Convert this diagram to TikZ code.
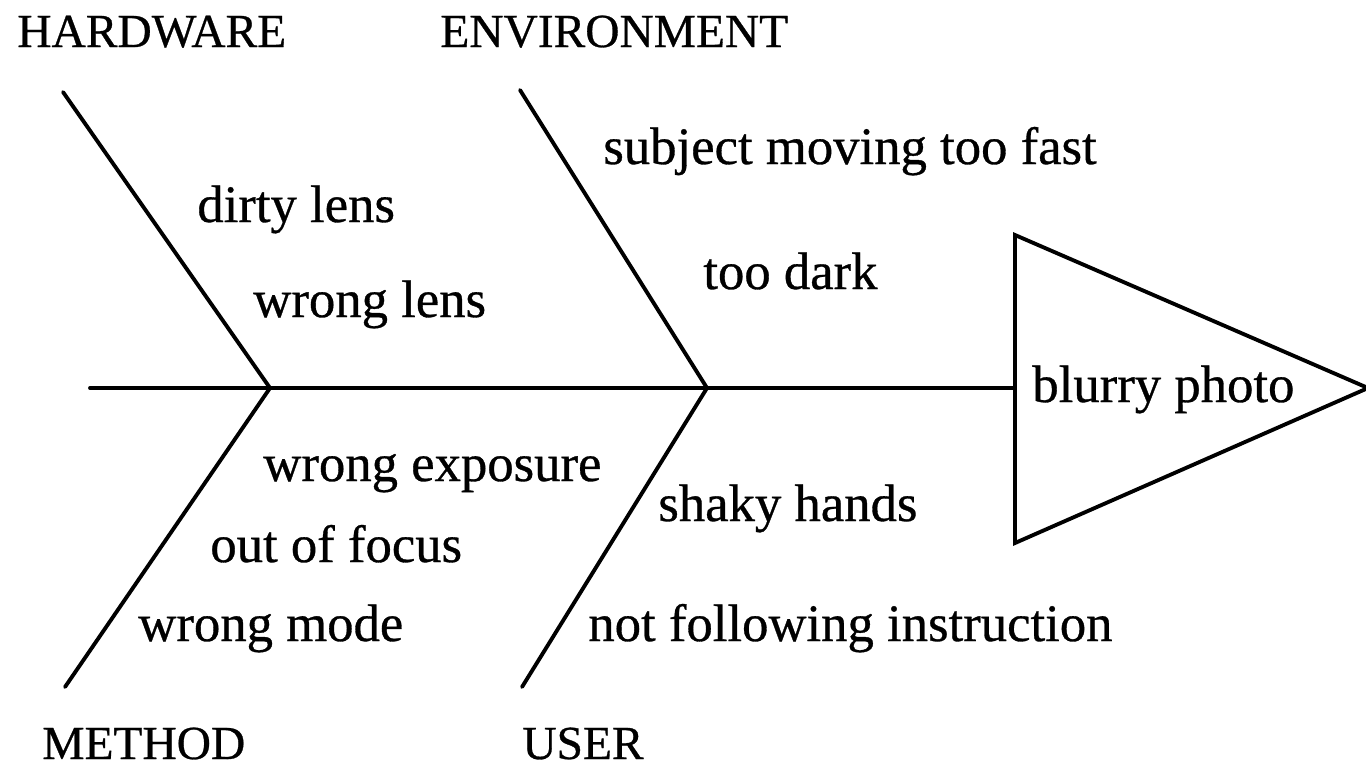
\documentclass[tikz,border=0pt]{standalone}
\usepackage{fontspec}
\setmainfont{Liberation Serif}
% slightly heavier strokes for the labels
\newfontfamily\labelfont[FakeBold=0.6]{Liberation Serif}
\begin{document}
\begin{tikzpicture}[x=0.02cm,y=-0.02cm,
  bone/.style={line width=2.2pt, line cap=round, line join=miter},
  cause/.style={anchor=base west, inner sep=0pt, font=\labelfont\fontsize{30}{36}\selectfont},
  category/.style={anchor=base west, inner sep=0pt, font=\labelfont\fontsize{27}{32}\selectfont},
]
\useasboundingbox (0,0) rectangle (1366,769);

% spine and junctions
\coordinate (tail) at (90,388);
\coordinate (j1) at (270,388);
\coordinate (j2) at (707,388);
\coordinate (headL) at (1015,388);

% bone ends
\coordinate (hwEnd) at (63,92);
\coordinate (envEnd) at (520,90);
\coordinate (metEnd) at (65,687);
\coordinate (usrEnd) at (522,687);

% head triangle corners
\coordinate (headT) at (1015,235);
\coordinate (headB) at (1015,543);
\coordinate (headA) at (1368,388);

\draw[bone] (tail) -- (j1) -- (j2) -- (headL);
\draw[bone] (hwEnd) -- (j1) -- (metEnd);
\draw[bone] (envEnd) -- (j2) -- (usrEnd);
\draw[bone] (headT) -- (headA) -- (headB) -- cycle;

% category labels
\node[category] (hw) at (17,47) {HARDWARE};
\node[category] (env) at (440,47) {ENVIRONMENT};
\node[category] (met) at (42,759) {METHOD};
\node[category] (usr) at (522,759) {USER};

% causes
\node[cause] (c1) at (197,222) {dirty lens};
\node[cause] (c2) at (253,317) {wrong lens};
\node[cause] (c3) at (603,164) {subject moving too fast};
\node[cause] (c4) at (703,289) {too dark};
\node[cause] (c5) at (263,481) {wrong exposure};
\node[cause] (c6) at (210,562) {out of focus};
\node[cause] (c7) at (138,641) {wrong mode};
\node[cause] (c8) at (658,521) {shaky hands};
\node[cause] (c9) at (588,641) {not following instruction};

% effect
\node[cause] (effect) at (1032,402) {blurry photo};
\end{tikzpicture}
\end{document}
